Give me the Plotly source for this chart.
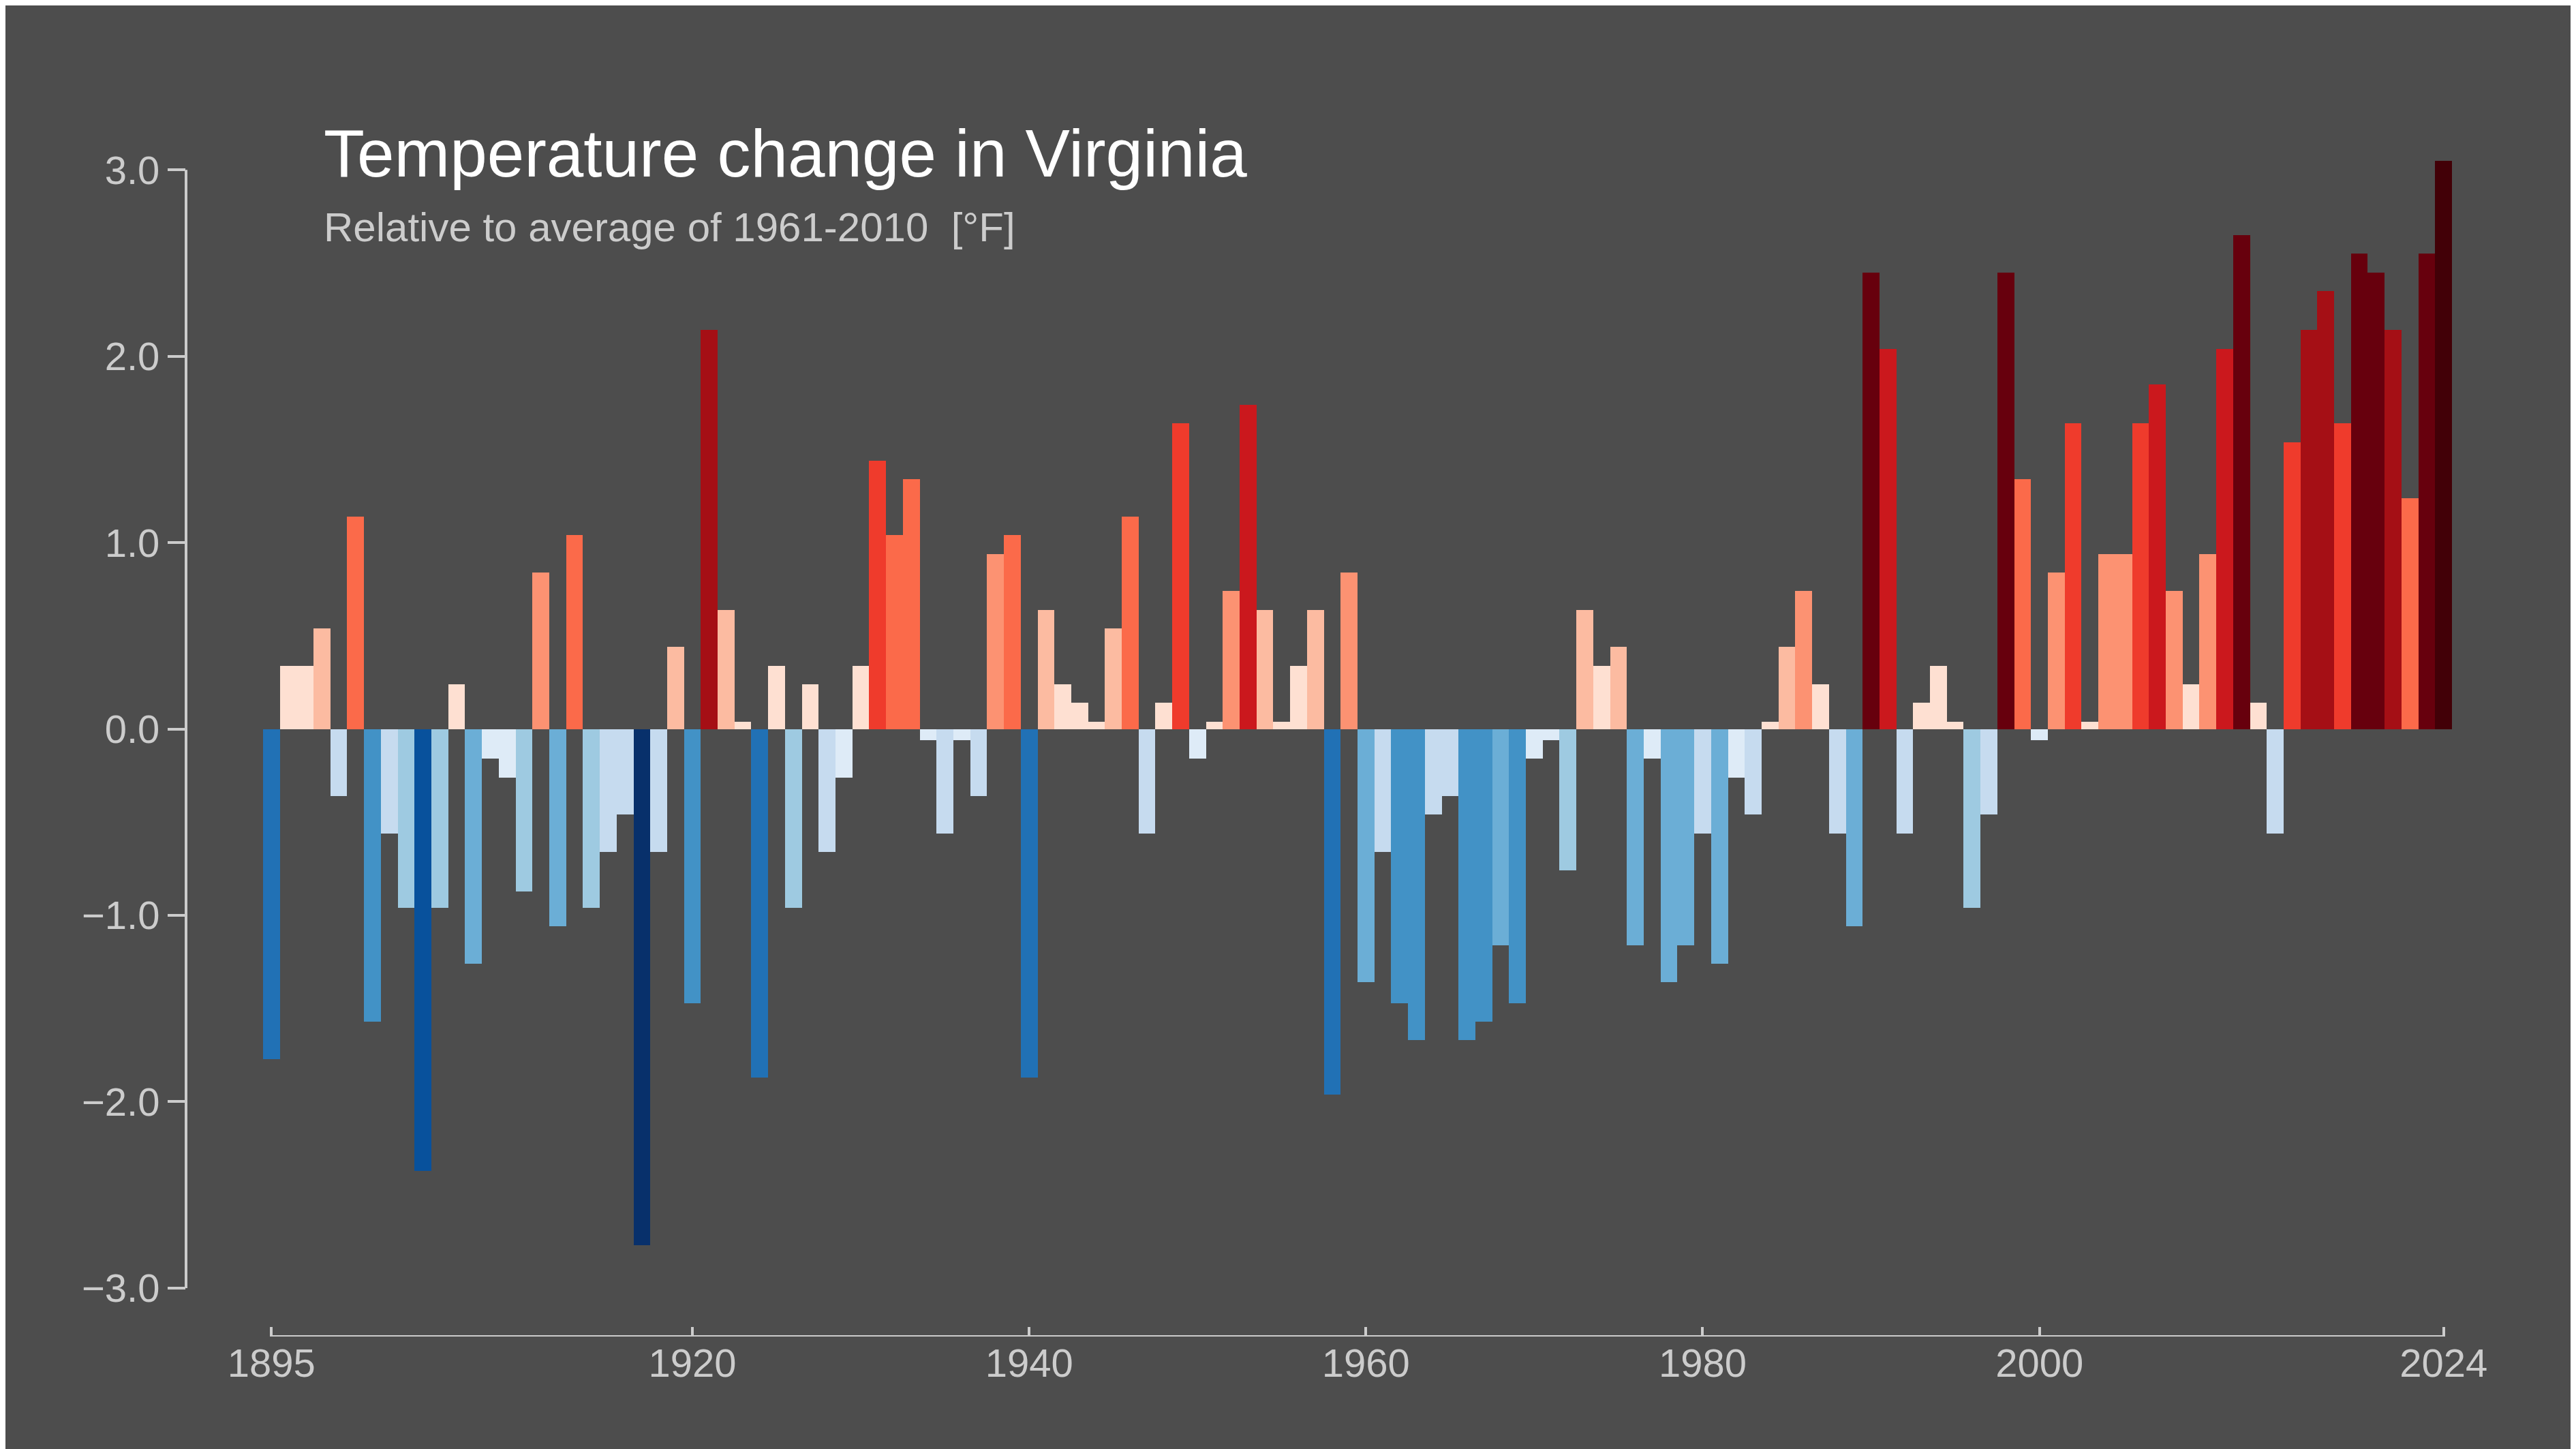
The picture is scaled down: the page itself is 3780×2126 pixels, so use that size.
import plotly.graph_objects as go

# yearly anomalies, Virginia, relative to 1961-2010 [°F]
years = list(range(1895, 2025))
anomaly = [
    -1.77, 0.34, 0.34, 0.54, -0.36, 1.14, -1.57, -0.56, -0.96, -2.37,
    -0.96, 0.24, -1.26, -0.16, -0.26, -0.87, 0.84, -1.06, 1.04, -0.96,
    -0.66, -0.46, -2.77, -0.66, 0.44, -1.47, 2.14, 0.64, 0.04, -1.87,
    0.34, -0.96, 0.24, -0.66, -0.26, 0.34, 1.44, 1.04, 1.34, -0.06,
    -0.56, -0.06, -0.36, 0.94, 1.04, -1.87, 0.64, 0.24, 0.14, 0.04,
    0.54, 1.14, -0.56, 0.14, 1.64, -0.16, 0.04, 0.74, 1.74, 0.64,
    0.04, 0.34, 0.64, -1.96, 0.84, -1.36, -0.66, -1.47, -1.67, -0.46,
    -0.36, -1.67, -1.57, -1.16, -1.47, -0.16, -0.06, -0.76, 0.64, 0.34,
    0.44, -1.16, -0.16, -1.36, -1.16, -0.56, -1.26, -0.26, -0.46, 0.04,
    0.44, 0.74, 0.24, -0.56, -1.06, 2.45, 2.04, -0.56, 0.14, 0.34,
    0.04, -0.96, -0.46, 2.45, 1.34, -0.06, 0.84, 1.64, 0.04, 0.94,
    0.94, 1.64, 1.85, 0.74, 0.24, 0.94, 2.04, 2.65, 0.14, -0.56,
    1.54, 2.14, 2.35, 1.64, 2.55, 2.45, 2.14, 1.24, 2.55, 3.05,
]
x_ticks = [1895, 1920, 1940, 1960, 1980, 2000, 2024]
y_ticks = [-3, -2, -1, 0, 1, 2, 3]

edges = [0.35, 0.7, 1.0, 1.4, 1.7, 2.1, 2.4, 2.8]
reds = ["#fee0d2", "#fcbba1", "#fc9272", "#fb6a4a", "#ef3b2c", "#cb181d", "#a50f15", "#67000d", "#420007"]
blues = ["#deebf7", "#c6dbef", "#9ecae1", "#6baed6", "#4292c6", "#2171b5", "#08519c", "#08306b", "#061f47"]


def bar_colour(v):
    k = sum(abs(v) >= e for e in edges)
    return reds[k] if v >= 0 else blues[k]


colours = [bar_colour(v) for v in anomaly]

bg = "#4d4d4d"
grey = "#cccccc"
font = "Liberation Sans, Arial, sans-serif"

fig = go.Figure(go.Bar(x=years, y=anomaly, width=1.0,
                       marker=dict(color=colours, line=dict(width=0))))

y_low = -3.26
fig.update_layout(
    width=3780, height=2126,
    paper_bgcolor=bg, plot_bgcolor=bg,
    margin=dict(l=265, r=190, t=214, b=173),
    showlegend=False,
    bargap=0,
    font=dict(family=font, color=grey, size=56),
)
fig.update_xaxes(range=[1889.93, 2024.5], tickvals=x_ticks, showgrid=False,
                 zeroline=False, showline=False, ticks="inside", ticklen=14,
                 tickwidth=4, tickcolor=grey, tickfont=dict(size=58, color=grey))
fig.update_yaxes(range=[y_low, 3.1], tickvals=y_ticks, tickformat=".1f",
                 showgrid=False, zeroline=False, showline=False, ticks="outside",
                 ticklen=26, tickwidth=4, tickcolor=grey,
                 tickfont=dict(size=58, color=grey))

# detached axis lines
fig.add_shape(type="line", xref="x", yref="y", x0=1895, x1=2024, y0=y_low, y1=y_low,
              line=dict(color=grey, width=4))
fig.add_shape(type="line", xref="paper", yref="y", x0=0, x1=0, y0=-3, y1=3,
              line=dict(color=grey, width=4))

fig.add_annotation(text="Temperature change in Virginia", xref="paper", yref="paper",
                   x=0.060, y=0.998, xanchor="left", yanchor="middle", showarrow=False,
                   font=dict(family=font, size=98, color="white"))
fig.add_annotation(text="Relative to average of 1961-2010  [°F]", xref="paper", yref="paper",
                   x=0.060, y=0.936, xanchor="left", yanchor="middle", showarrow=False,
                   font=dict(family=font, size=60, color=grey))

fig.write_html("out.html")
